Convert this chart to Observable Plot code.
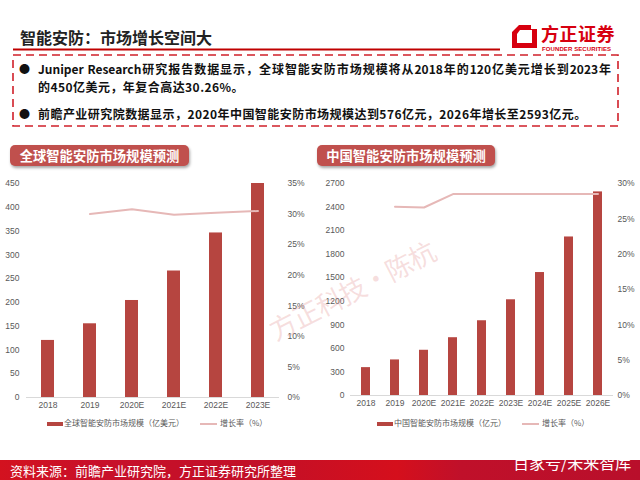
<!DOCTYPE html>
<html><head><meta charset="utf-8">
<script src="https://cdn.jsdelivr.net/npm/d3@7"></script>
<script src="https://cdn.jsdelivr.net/npm/@observablehq/plot@0.6"></script>
<style>
body{margin:0;width:640px;height:480px;position:relative;overflow:hidden;background:#fff;font-family:"Noto Sans CJK SC","Noto Sans",sans-serif;}
.abs{position:absolute;}
.title{left:20px;top:25px;font-size:16px;font-weight:bold;color:#222;line-height:24px;white-space:nowrap;}
.bul{font-size:12px;font-weight:bold;color:#111;line-height:17.5px;white-space:nowrap;letter-spacing:0.45px;}
.dot{font-size:11px;color:#111;line-height:17.5px;}
.box{height:21px;border-radius:5px;background:#c0504d;color:#fff;font-weight:bold;font-size:13.3px;line-height:21px;text-align:center;box-shadow:1px 2px 3px rgba(0,0,0,0.35);white-space:nowrap;}
.leg{font-size:8px;color:#595959;line-height:12px;white-space:nowrap;font-family:"Noto Sans CJK SC",sans-serif;}
.sw{display:inline-block;vertical-align:middle;}
</style></head><body>
<svg class="abs" style="left:0;top:0" width="640" height="140">
  <line x1="13" y1="49.5" x2="500" y2="49.5" stroke="#c00000" stroke-width="2"/>
  <rect x="13" y="55" width="605" height="71" fill="none" stroke="#d0202a" stroke-width="1.6" stroke-dasharray="8,5"/>
  <g transform="translate(512,25)">
    <path d="M7,0 L25,0 L25,23 L0,23 L0,7 Z M8,5 L20,5 L20,18 L5,18 L5,9 Z" fill="#d7000f" fill-rule="evenodd"/>
    <rect x="19" y="0" width="6" height="4" fill="#fff"/>
  </g>
</svg>
<div class="abs title">智能安防：市场增长空间大</div>
<div class="abs" style="left:541px;top:20px;font-size:18px;font-weight:bold;color:#d7000f;line-height:26px;letter-spacing:0.5px;">方正证券</div>
<div class="abs" style="left:542px;top:45px;font-size:6px;font-weight:bold;color:#d7000f;line-height:8px;letter-spacing:0.1px;font-family:'Liberation Sans',Arial,sans-serif;">FOUNDER SECURITIES</div>

<div class="abs dot" style="left:19px;top:60px;">●</div>
<div class="abs bul" style="left:38px;top:60px;width:573px;">
  <div style="text-align:justify;text-align-last:justify;letter-spacing:0;">Juniper Research研究报告数据显示，全球智能安防市场规模将从2018年的120亿美元增长到2023年</div>
  <div>的450亿美元，年复合高达30.26%。</div>
</div>
<div class="abs dot" style="left:19px;top:105px;">●</div>
<div class="abs bul" style="left:38px;top:105px;">前瞻产业研究院数据显示，2020年中国智能安防市场规模达到576亿元，2026年增长至2593亿元。</div>

<div class="abs box" style="left:10px;top:145px;width:179px;">全球智能安防市场规模预测</div>
<div class="abs box" style="left:317px;top:145px;width:178px;">中国智能安防市场规模预测</div>

<div id="c1" class="abs" style="left:0;top:170px;"></div>
<div id="c2" class="abs" style="left:310px;top:170px;"></div>

<div class="abs leg" style="left:47px;top:417px;"><span class="sw" style="width:16px;height:4px;background:#b64540;margin-right:1px;"></span>全球智能安防市场规模（亿美元）</div>
<div class="abs leg" style="left:200px;top:417px;"><span class="sw" style="width:17px;height:2px;background:#e6b8b7;margin-right:3px;"></span>增长率（%）</div>
<div class="abs leg" style="left:377px;top:417px;"><span class="sw" style="width:16px;height:4px;background:#b64540;margin-right:1px;"></span>中国智能安防市场规模（亿元）</div>
<div class="abs leg" style="left:522px;top:417px;"><span class="sw" style="width:17px;height:2px;background:#e6b8b7;margin-right:3px;"></span>增长率（%）</div>

<div class="abs" style="left:264px;top:318px;font-size:27px;color:rgba(225,140,140,0.28);transform:rotate(-27deg);transform-origin:0 0;white-space:nowrap;line-height:30px;letter-spacing:-1px;">方正科技·陈杭</div>

<div class="abs" style="left:0;top:460px;width:640px;height:20px;background:linear-gradient(90deg,#d3121f 0%,#c8102a 15%,#c21028 40%,#d50f1c 62%,#c0102a 72%,#b90f2b 100%);"></div>
<div class="abs" style="left:10px;top:460px;font-size:13px;color:#fff;line-height:22px;white-space:nowrap;">资料来源：前瞻产业研究院，方正证券研究所整理</div>
<div class="abs" style="left:513px;top:451px;font-size:16px;color:#fff;line-height:22px;white-space:nowrap;">百家号/未来智库</div>

<script>
// ---- data ----
const globalYears = ["2018","2019","2020E","2021E","2022E","2023E"];
const globalSize = [120,155,204,266,346,450];
const globalGrowth = [null,30.0,30.8,29.9,30.2,30.5];
const globalSizeTicks = [0,50,100,150,200,250,300,350,400,450];
const globalGrowthTicks = [0,5,10,15,20,25,30,35];

const chinaYears = ["2018","2019","2020E","2021E","2022E","2023E","2024E","2025E","2026E"];
const chinaSize = [355,453,576,736,952,1219,1566,2019,2593];
const chinaGrowth = [null,26.7,26.6,28.5,28.5,28.5,28.5,28.5,28.5];
const chinaSizeTicks = [0,300,600,900,1200,1500,1800,2100,2400,2700];
const chinaGrowthTicks = [0,5,10,15,20,25,30];

const barColor = "#b64540";
const lineColor = "#e6b8b7";

function chart(years, sizes, growth, sizeTicks, growthTicks, o) {
  const rows = years.map((y,i)=>({year:y,size:sizes[i],growth:growth[i]}));
  const yMax = sizeTicks[sizeTicks.length-1];
  const gMax = growthTicks[growthTicks.length-1];
  const k = yMax / gMax;
  return Plot.plot({
    width:o.width, height:o.height,
    marginLeft:o.ml, marginRight:o.mr, marginTop:o.mt, marginBottom:o.mb,
    style:{fontSize:"8.5px", fontFamily:"'Liberation Sans',Arial,sans-serif", color:"#595959", background:"transparent", overflow:"visible"},
    x:{domain:years, paddingInner:o.pi, paddingOuter:o.pi/2, label:null},
    y:{domain:[0,yMax], label:null},
    marks:[
      Plot.barY(rows,{x:"year", y:"size", fill:barColor}),
      Plot.ruleY([0],{stroke:"#d9d9d9", strokeWidth:1}),
      Plot.line(rows.filter(d=>d.growth!=null),{x:"year", y:d=>d.growth*k, stroke:lineColor, strokeWidth:2}),
      Plot.axisY({ticks:sizeTicks, tickFormat:v=>String(v), tickSize:0, tickPadding:o.lp, label:null, fill:"#595959"}),
      Plot.axisY({anchor:"right", ticks:growthTicks.map(v=>v*k), tickFormat:v=>Math.round(v/k)+"%", tickSize:0, tickPadding:o.rp, label:null, fill:"#595959"}),
      Plot.axisX({tickSize:0, tickPadding:4, label:null, fill:"#595959"})
    ]
  });
}

document.getElementById("c1").appendChild(
  chart(globalYears, globalSize, globalGrowth, globalSizeTicks, globalGrowthTicks,
    {width:315, height:245, ml:26, mr:36, mt:13, mb:18, pi:0.685, lp:7, rp:8}));
document.getElementById("c2").appendChild(
  chart(chinaYears, chinaSize, chinaGrowth, chinaSizeTicks, chinaGrowthTicks,
    {width:330, height:245, ml:40, mr:27, mt:13, mb:20, pi:0.675, lp:6, rp:4}));
</script>
</body></html>
